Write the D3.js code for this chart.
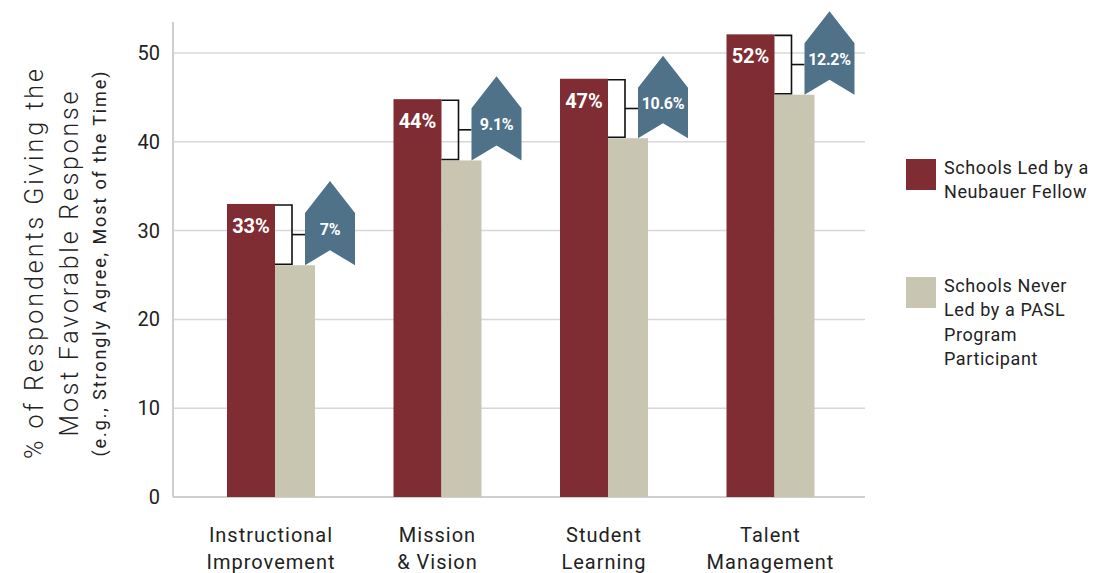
<!DOCTYPE html>
<html>
<head>
<meta charset="utf-8">
<script src="https://cdn.jsdelivr.net/npm/d3@7"></script>
<style>
  body { margin: 0; background: #fff; }
  svg { display: block; font-family: Roboto, "DejaVu Sans", sans-serif; }
</style>
</head>
<body>
<svg id="chart" width="1101" height="573"></svg>
<script>
// data
const categories = [["Instructional", "Improvement"], ["Mission", "& Vision"], ["Student", "Learning"], ["Talent", "Management"]];
const fellowValues = [33.0, 44.8, 47.1, 52.1];
const neverValues = [26.1, 37.9, 40.4, 45.3];
const fellowLabels = ["33%", "44%", "47%", "52%"];
const diffLabels = ["7%", "9.1%", "10.6%", "12.2%"];
const yTicks = [0, 10, 20, 30, 40, 50];
const legendItems = [
  { lines: ["Schools Led by a", "Neubauer Fellow"], color: "#7f2c32" },
  { lines: ["Schools Never", "Led by a PASL", "Program", "Participant"], color: "#c8c5b0" }
];

const maroon = "#7f2c32", khaki = "#c8c5b0", blue = "#4f7289";

const svg = d3.select("#chart");

const y = d3.scaleLinear().domain([0, 50]).range([497, 53]);
const x = d3.scaleBand()
    .domain(categories.map((d, i) => i))
    .range([148.5, 893])
    .padding(0.4715);

const plotLeft = 173, plotRight = 865;
const bw = x.bandwidth();
const wA = bw * 48 / 88, wB = bw * 40 / 88;

// gridlines
svg.append("g")
  .selectAll("line")
  .data(yTicks.filter(d => d > 0))
  .join("line")
    .attr("x1", plotLeft).attr("x2", plotRight)
    .attr("y1", d => y(d)).attr("y2", d => y(d))
    .attr("stroke", "#d8d8d8").attr("stroke-width", 1.5);

// axis frame
svg.append("line")
  .attr("x1", plotLeft).attr("x2", plotLeft)
  .attr("y1", y(53.5)).attr("y2", y(0))
  .attr("stroke", "#cfcfcf").attr("stroke-width", 2);
svg.append("line")
  .attr("x1", plotLeft).attr("x2", plotRight)
  .attr("y1", y(0)).attr("y2", y(0))
  .attr("stroke", "#cfcfcf").attr("stroke-width", 2);

// y tick labels
svg.append("g")
  .selectAll("text")
  .data(yTicks)
  .join("text")
    .attr("x", 160)
    .attr("y", d => y(d))
    .attr("dy", "0.35em")
    .attr("text-anchor", "end")
    .attr("font-size", 20)
    .attr("fill", "#222")
    .text(d => d);

// y title
const titleLines = [
  { t: "% of Respondents Giving the", cx: 34, size: 25, len: 390 },
  { t: "Most Favorable Response", cx: 69, size: 25, len: 345 },
  { t: "(e.g., Strongly Agree, Most of the Time)", cx: 100, size: 18, len: 385 }
];
svg.append("g")
  .selectAll("text")
  .data(titleLines)
  .join("text")
    .attr("transform", d => `translate(${d.cx},264) rotate(-90)`)
    .attr("text-anchor", "middle")
    .attr("dy", "0.35em")
    .attr("font-size", d => d.size)
    .attr("font-weight", (d, k) => k < 2 ? 300 : 400)
    .attr("fill", "#222")
    .attr("textLength", d => d.len)
    .attr("lengthAdjust", "spacing")
    .text(d => d.t);

const idx = d3.range(categories.length);

// bars
svg.append("g")
  .selectAll("rect")
  .data(idx)
  .join("rect")
    .attr("x", i => x(i))
    .attr("y", i => y(fellowValues[i]))
    .attr("width", wA)
    .attr("height", i => y(0) - y(fellowValues[i]))
    .attr("fill", maroon);

svg.append("g")
  .selectAll("rect")
  .data(idx)
  .join("rect")
    .attr("x", i => x(i) + wA)
    .attr("y", i => y(neverValues[i]))
    .attr("width", wB)
    .attr("height", i => y(0) - y(neverValues[i]))
    .attr("fill", khaki);

// value labels in maroon bars
svg.append("g")
  .selectAll("text")
  .data(idx)
  .join("text")
    .attr("x", i => x(i) + wA / 2)
    .attr("y", i => y(fellowValues[i]) + 22)
    .attr("dy", "0.35em")
    .attr("text-anchor", "middle")
    .attr("font-size", 20)
    .attr("font-weight", 700)
    .attr("fill", "#fff")
    .text(i => fellowLabels[i]);

// brackets
const brk = svg.append("g")
  .selectAll("g")
  .data(idx)
  .join("g");

brk.append("path")
  .attr("d", i => {
    const x0 = x(i) + wA, x1 = x0 + 17;
    const ya = y(fellowValues[i]) + 1, yb = y(neverValues[i]) - 1;
    return `M${x0},${ya}H${x1}V${yb}H${x0}`;
  })
  .attr("fill", "none")
  .attr("stroke", "#111")
  .attr("stroke-width", 1.6);

brk.append("line")
  .attr("x1", i => x(i) + wA + 17)
  .attr("x2", i => x(i) + wA + 30)
  .attr("y1", i => (y(fellowValues[i]) + y(neverValues[i])) / 2)
  .attr("y2", i => (y(fellowValues[i]) + y(neverValues[i])) / 2)
  .attr("stroke", "#111")
  .attr("stroke-width", 1.6);

// arrows
function arrowPath(i) {
  const l = x(i) + wA + 30, r = l + 50, m = (l + r) / 2;
  const apex = y(fellowValues[i]) - 23;
  const sh = apex + 32;
  const bot = y(neverValues[i]);
  const notch = bot - 15;
  return `M${m},${apex}L${r},${sh}L${r},${bot}L${m},${notch}L${l},${bot}L${l},${sh}Z`;
}
brk.append("path")
  .attr("d", arrowPath)
  .attr("fill", blue);

brk.append("text")
  .attr("x", i => x(i) + wA + 55)
  .attr("y", i => {
    const apex = y(fellowValues[i]) - 23;
    const bot = y(neverValues[i]);
    return (apex + 32 + bot - 15) / 2 - 2;
  })
  .attr("dy", "0.35em")
  .attr("text-anchor", "middle")
  .attr("font-size", 16)
  .attr("font-weight", 700)
  .attr("letter-spacing", -0.3)
  .attr("fill", "#fff")
  .text(i => diffLabels[i]);

// x category labels
svg.append("g")
  .selectAll("text")
  .data(idx)
  .join("text")
    .attr("x", i => x(i) + bw / 2)
    .attr("text-anchor", "middle")
    .attr("font-size", 20)
    .attr("letter-spacing", 1)
    .attr("fill", "#222")
    .each(function(i) {
      d3.select(this).selectAll("tspan")
        .data(categories[i])
        .join("tspan")
          .attr("x", x(i) + bw / 2)
          .attr("y", (d, k) => 542 + k * 27)
          .text(d => d);
    });

// legend
const legend = svg.append("g")
  .selectAll("g")
  .data(legendItems)
  .join("g")
    .attr("transform", (d, k) => `translate(906,${k === 0 ? 159 : 277})`);

legend.append("rect")
  .attr("width", 30).attr("height", 31)
  .attr("fill", d => d.color);

legend.append("text")
  .attr("font-size", 18)
  .attr("letter-spacing", 0.6)
  .attr("fill", "#222")
  .selectAll("tspan")
  .data(d => d.lines)
  .join("tspan")
    .attr("x", 38)
    .attr("y", (d, k) => 15 + k * 24.3)
    .text(d => d);
</script>
</body>
</html>
